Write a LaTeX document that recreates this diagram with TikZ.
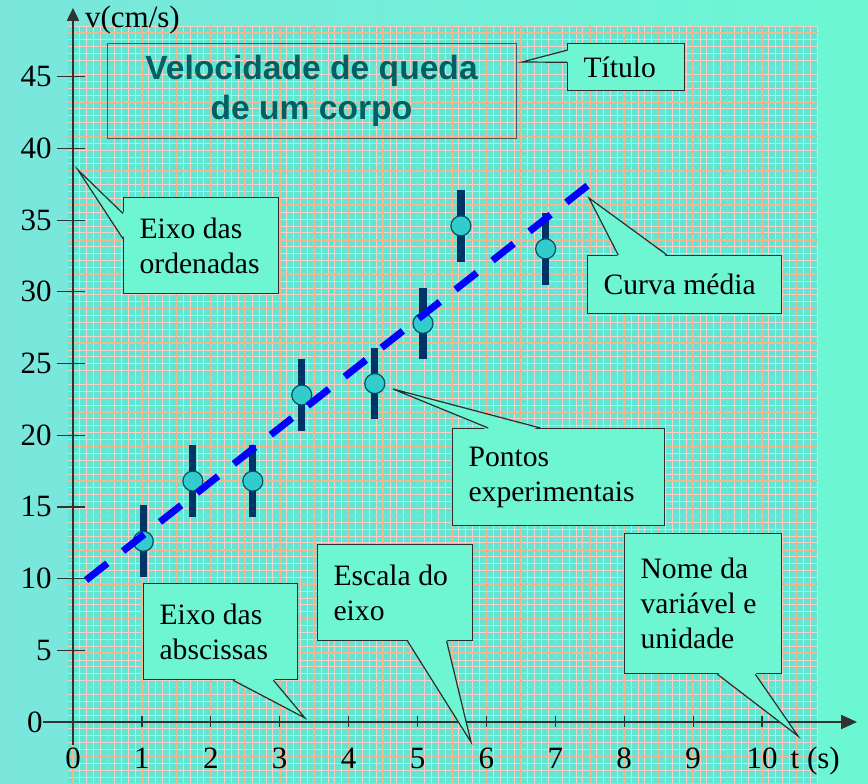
\documentclass[tikz,border=0pt]{standalone}
\usepackage{fontspec}
\setmainfont{Liberation Serif}
\newfontfamily\titlefont{Liberation Sans}
\usetikzlibrary{positioning,arrows.meta,calc}
\definecolor{fundoesq}{RGB}{122,230,220}
\definecolor{fundodir}{RGB}{108,247,212}
\definecolor{papel}{RGB}{98,230,212}
\definecolor{corfina}{RGB}{250,208,198}
\definecolor{corgrossa}{RGB}{246,180,145}
\definecolor{caixa}{RGB}{110,245,210}
\definecolor{bordacaixa}{RGB}{45,45,45}
\definecolor{eixocor}{RGB}{50,50,50}
\definecolor{barra}{RGB}{0,51,102}
\definecolor{bolinha}{RGB}{51,204,204}
\definecolor{bordaponto}{RGB}{0,80,100}
\definecolor{titulocor}{RGB}{0,96,100}
\definecolor{bordatitulo}{RGB}{70,90,100}
\tikzset{
eixo/.style={draw=eixocor, line width=1pt},
traco/.style={draw=eixocor, line width=0.6pt},
rotulo/.style={inner sep=0pt, font=\fontsize{15.5pt}{18pt}\selectfont},
linhafina/.style={draw=corfina, line width=0.42pt},
linhagrossa/.style={draw=corgrossa, line width=0.8pt},
erro/.style={draw=barra, line width=3.6pt},
ponto/.style={circle, fill=bolinha, draw=bordaponto, line width=0.6pt, minimum size=10pt, inner sep=0pt},
media/.style={draw=blue, line width=3.5pt, dash pattern=on 13.5pt off 10pt},
titulobox/.style={draw=bordatitulo, line width=0.45pt, align=center, text=titulocor,
  minimum width=204.5pt, minimum height=47.5pt, inner sep=0pt,
  font=\titlefont\bfseries\fontsize{16.8pt}{20pt}\selectfont},
balao/.style={draw=bordacaixa, fill=caixa, line width=0.6pt, anchor=north west,
  inner xsep=8pt, inner ysep=0pt, align=flush left, font=\fontsize{14.8pt}{17.5pt}\selectfont},
balaofill/.style={fill=caixa},
balaolinha/.style={draw=bordacaixa, line width=0.6pt}
}
\begin{document}
\begin{tikzpicture}[x=0.5pt,y=-0.5pt]
  \useasboundingbox (0,0) rectangle (868,783);
  \shade[left color=fundoesq, right color=fundodir] (0,0) rectangle (868,783);

  % papel milimetrado
  \begin{scope}[shift={(73,722)},x=0.5pt,y=0.5pt]
    \fill[papel] (-5,-61) rectangle (745,696);
    \draw[linhafina,step=6.89] (-5,-61) grid (745,696);
    \draw[linhagrossa,step=34.45] (-5,-61) grid (745,696);
  \end{scope}

  \begin{scope}[shift={(73,722)},x=34.45pt,y=7.17pt]
    \draw[eixo,-{Triangle[length=8pt,width=7pt]}] (-0.44,0) -- (11.38,0);
    \draw[eixo,-{Triangle[length=6.5pt,width=6pt]}] (0,-1.6) -- (0,49.8);
    \foreach \v in {5,10,...,45} {
      \draw[traco] ([xshift=-8pt]0,\v) -- ([xshift=6pt]0,\v);
      \node[rotulo,anchor=east] (ly\v) at ([xshift=-10.5pt]0,\v) {\v};
    }
    \node[rotulo,anchor=east] (ly0) at ([xshift=-15pt]0,0) {0};
    \foreach \t in {1,...,10}
      \draw[traco] ([yshift=3pt]\t,0) -- ([yshift=-2.5pt]\t,0);
    \foreach \t in {0,...,10}
      \node[rotulo,anchor=base] (lx\t) at ([yshift=-23pt]\t,0) {\t};
    \node[rotulo,anchor=base west] (nomet) at ([yshift=-23pt]10.41,0) {t (s)};
    \node[rotulo,anchor=base west] (nomev) at (0.17,48.4) {v(cm/s)};

    \foreach \t/\v [count=\i] in {1.02/12.6, 1.74/16.8, 2.61/16.8, 3.32/22.8,
                                  4.38/23.6, 5.08/27.8, 5.63/34.6, 6.86/33.0} {
      \draw[erro] (\t,{\v-2.5}) -- (\t,{\v+2.5});
      \node[ponto] (p\i) at (\t,\v) {};
    }
    \draw[media] (0.19,9.9) -- (7.6,37.9);
  \end{scope}

  \node[titulobox] (titulobox) at (311.5,90.5) {Velocidade de queda\\de um corpo};

  \node[balao, minimum width=58.5pt, minimum height=23.5pt, text width=42.5pt] (titulo) at (567,43) {Título};
  \node[balao, minimum width=77.5pt, minimum height=48pt, text width=61.5pt] (ordenadas) at (123,197) {Eixo das\\ordenadas};
  \node[balao, minimum width=97pt, minimum height=29pt, text width=81pt] (curva) at (587,255) {Curva média};
  \node[balao, minimum width=106pt, minimum height=48.5pt, text width=90pt] (pontos) at (452,428) {Pontos\\experimentais};
  \node[balao, minimum width=77.5pt, minimum height=48pt, text width=61.5pt] (escala) at (317,544) {Escala do\\eixo};
  \node[balao, minimum width=77pt, minimum height=48pt, text width=61pt] (abscissas) at (143,583) {Eixo das\\abscissas};
  \node[balao, minimum width=78.5pt, minimum height=70pt, text width=62.5pt] (nome) at (624,533) {Nome da\\variável e\\unidade};

  \coordinate (tiptitulo) at (522,62);
  \coordinate (tipordenadas) at (78,170);
  \coordinate (tipcurva) at (589,198);
  \coordinate (tippontos) at (393,389);
  \coordinate (tipescala) at (471,742);
  \coordinate (tipabscissas) at (305,718);
  \coordinate (tipnome) at (798,736);

  \foreach \n/\ca/\cb/\fa/\fb/\dx/\dy in {
      titulo/north west/south west/0.15/0.40/1pt/0pt,
      ordenadas/north west/south west/0.17/0.43/1pt/0pt,
      curva/north west/north east/0.16/0.41/0pt/-1pt,
      pontos/north west/north east/0.17/0.415/0pt/-1pt,
      escala/south west/south east/0.58/0.83/0pt/1pt,
      abscissas/south west/south east/0.58/0.84/0pt/1pt,
      nome/south west/south east/0.59/0.83/0pt/1pt} {
    \fill[balaofill] ($(\n.\ca)!\fa!(\n.\cb)+(\dx,\dy)$) -- (tip\n)
      -- ($(\n.\ca)!\fb!(\n.\cb)+(\dx,\dy)$) -- cycle;
    \draw[balaolinha] ($(\n.\ca)!\fa!(\n.\cb)$) -- (tip\n) -- ($(\n.\ca)!\fb!(\n.\cb)$);
  }
\end{tikzpicture}
\end{document}
